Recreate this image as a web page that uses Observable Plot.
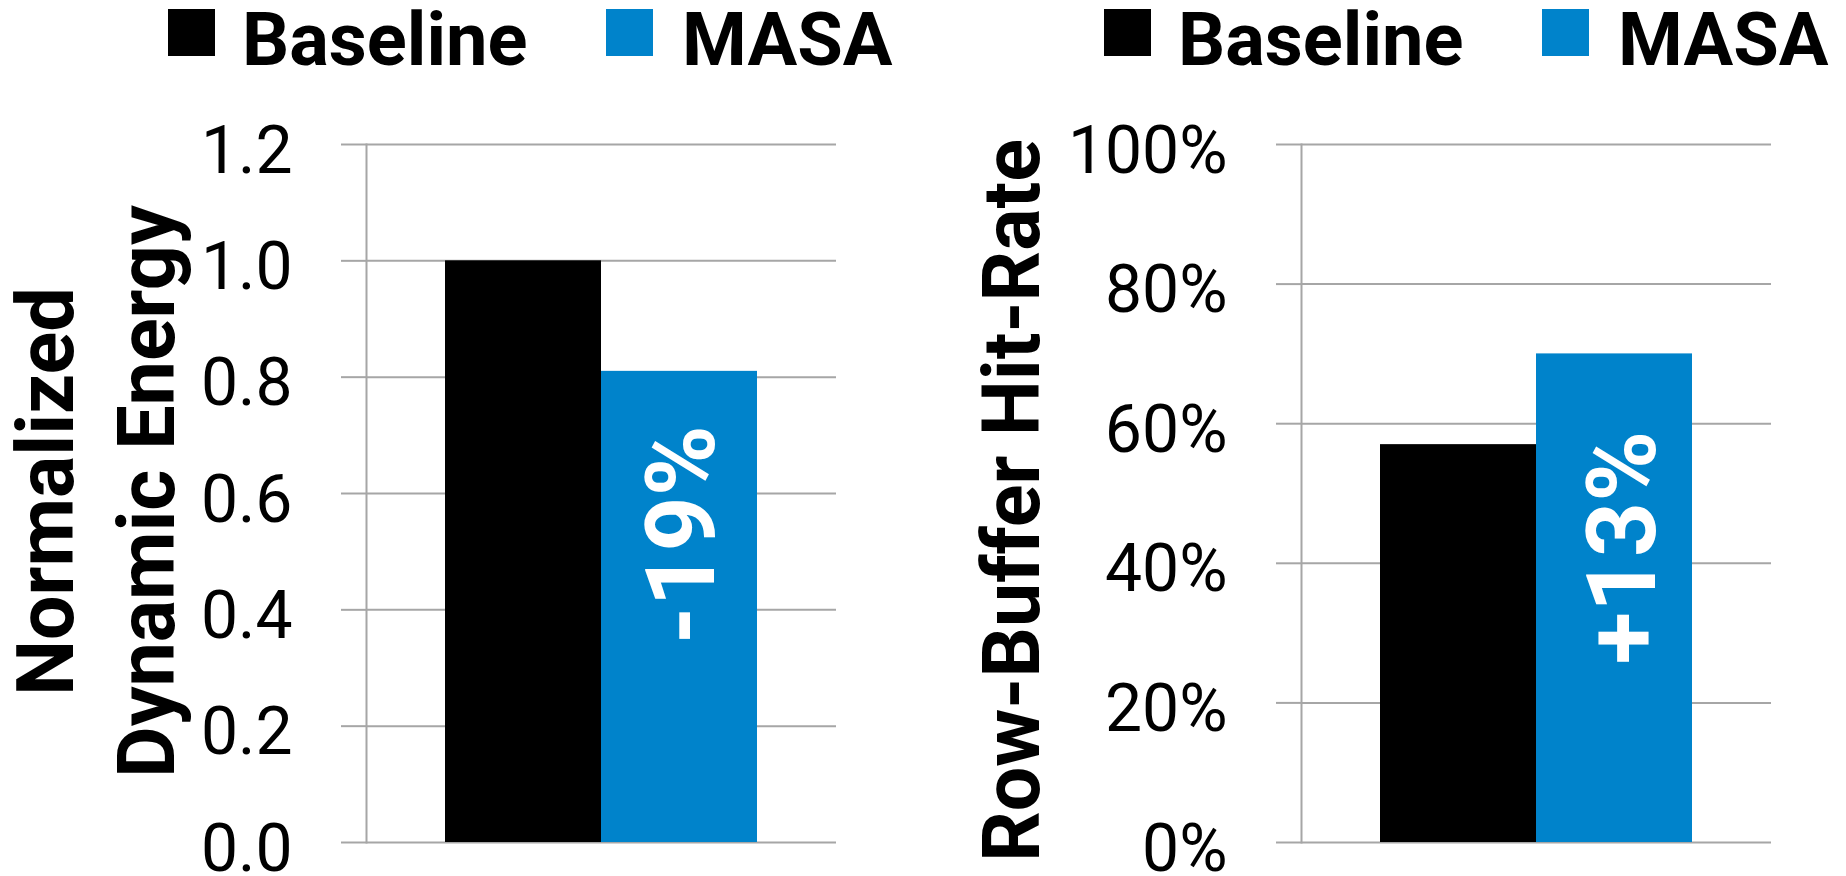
<!DOCTYPE html>
<html>
<head>
<meta charset="utf-8">
<script src="https://cdn.jsdelivr.net/npm/d3@7"></script>
<script src="https://cdn.jsdelivr.net/npm/@observablehq/plot@0.6"></script>
<style>
  body { margin: 0; background: #fff; }
  #root { position: relative; width: 1846px; height: 876px; overflow: hidden; font-family: Roboto, sans-serif; background: #fff; }
  .chart { position: absolute; top: 0; width: 923px; height: 876px; }
  .legend { position: absolute; top: 0; left: 0; width: 923px; height: 80px; }
  .sw { position: absolute; top: 9px; width: 47px; height: 47px; }
  .lt { position: absolute; top: 3px; font-size: 74px; font-weight: 700; line-height: 74px; color: #000; white-space: nowrap; }
  .plot { position: absolute; top: 80px; left: 0; }
</style>
</head>
<body>
<div id="root"></div>
<script>
// ---- data ----
const series = ["Baseline", "MASA"];
const energyValues = [1.0, 0.81];
const energyLabels = ["", "-19%"];
const energyTicks = [0, 0.2, 0.4, 0.6, 0.8, 1.0, 1.2];
const energyTitle = ["Normalized", "Dynamic Energy"];

const hitRateValues = [0.57, 0.70];
const hitRateLabels = ["", "+13%"];
const hitRateTicks = [0, 0.2, 0.4, 0.6, 0.8, 1.0];
const hitRateTitle = ["Row-Buffer Hit-Rate"];

// ---- styles ----
const colors = ["#000000", "#0083cb"];
const gridColor = "#a6a6a6";

function makeChart(cfg) {
  const data = series.map((s, i) => ({series: s, value: cfg.values[i], label: cfg.labels[i]}));
  const wrap = document.createElement("div");
  wrap.className = "chart";
  wrap.style.left = cfg.left + "px";

  const legend = document.createElement("div");
  legend.className = "legend";
  series.forEach((s, i) => {
    const sw = document.createElement("div");
    sw.className = "sw";
    sw.style.left = cfg.legendPos[i][0] + "px";
    sw.style.background = colors[i];
    const t = document.createElement("div");
    t.className = "lt";
    t.style.left = cfg.legendPos[i][1] + "px";
    t.textContent = s;
    legend.appendChild(sw);
    legend.appendChild(t);
  });
  wrap.appendChild(legend);

  const titleMarks = cfg.title.map((line, i) =>
    Plot.text([line], {
      frameAnchor: "left", text: d => d, rotate: -90,
      textAnchor: "middle", lineAnchor: "middle",
      dx: cfg.titleDx[i], dy: cfg.titleDy,
      fontSize: 79, fontWeight: "bold", fill: "black"
    })
  );

  const svg = Plot.plot({
    width: 923,
    height: 796,
    marginTop: 64,
    marginBottom: 34,
    marginLeft: cfg.marginLeft,
    marginRight: cfg.marginRight,
    style: {fontFamily: "Roboto, sans-serif", fontSize: "66px", background: "white", overflow: "visible"},
    x: {domain: series, paddingInner: 0, paddingOuter: 0.5, axis: null},
    y: {domain: cfg.domain},
    color: {domain: series, range: colors},
    marks: [
      Plot.gridY(cfg.ticks, {stroke: gridColor, strokeOpacity: 1, strokeWidth: 2}),
      Plot.axisY(cfg.ticks, {tickSize: 25, stroke: gridColor, strokeOpacity: 1, strokeWidth: 2, tickFormat: () => "", label: null}),
      Plot.axisY(cfg.ticks, {tickSize: 0, tickPadding: 74, tickFormat: cfg.format, fill: "black", dy: 7, fontSize: 66, label: null}),
      Plot.frame({anchor: "left", stroke: gridColor, strokeWidth: 2}),
      Plot.barY(data, {x: "series", y: "value", fill: "series"}),
      Plot.text(data.filter(d => d.label), {
        x: "series", y: "value", text: "label", rotate: -90, textAnchor: "end",
        dx: cfg.labelDx, dy: cfg.labelDy, fill: "white", fontSize: 96, fontWeight: "bold"
      }),
      ...titleMarks
    ]
  });
  svg.classList.add("plot");
  wrap.appendChild(svg);
  return wrap;
}

const root = document.getElementById("root");
root.appendChild(makeChart({
  left: 0,
  values: energyValues, labels: energyLabels, ticks: energyTicks, title: energyTitle,
  domain: [0, 1.2], format: d3.format(".1f"),
  marginLeft: 366, marginRight: 87,
  legendPos: [[168, 242], [606, 682]],
  labelDx: 4, labelDy: 54,
  titleDx: [-319, -218], titleDy: -2
}));
root.appendChild(makeChart({
  left: 923,
  values: hitRateValues, labels: hitRateLabels, ticks: hitRateTicks, title: hitRateTitle,
  domain: [0, 1], format: d3.format(".0%"),
  marginLeft: 378, marginRight: 75,
  legendPos: [[181, 255], [619, 695]],
  labelDx: 10, labelDy: 77,
  titleDx: [-288], titleDy: 7
}));
</script>
</body>
</html>
